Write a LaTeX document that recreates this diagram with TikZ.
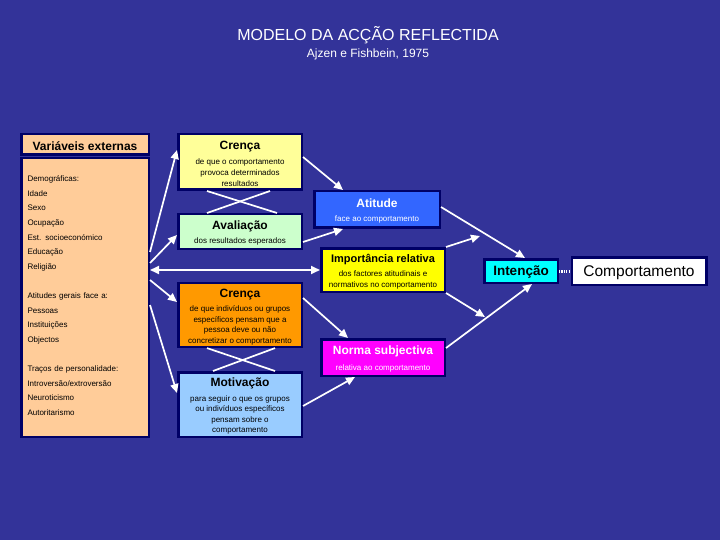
\documentclass[tikz,border=0pt]{standalone}
\usepackage{fontspec}
\setmainfont{Liberation Sans}
\usetikzlibrary{positioning, arrows.meta}

\newcommand{\btitle}[1]{{\fontsize{12}{12}\selectfont\bfseries\rule{0pt}{12pt}#1}}

\begin{document}
\begin{tikzpicture}[
        x=1pt, y=-1pt,
        >={Triangle[length=9pt,width=8pt]},
        % sub texts of the boxes are all 8pt
        font=\fontsize{8}{10.5}\selectfont
    ]
        % Define custom colors matching the slide
        \definecolor{slideblue}{RGB}{51,51,153}
        \definecolor{boxline}{RGB}{0,0,102}
        \definecolor{varpeach}{RGB}{255,204,153}
        \definecolor{crencayellow}{RGB}{255,255,153}
        \definecolor{avalgreen}{RGB}{204,255,204}
        \definecolor{atitudeblue}{RGB}{51,102,255}
        \definecolor{importyellow}{RGB}{255,255,0}
        \definecolor{crencaorange}{RGB}{255,153,0}
        \definecolor{motivblue}{RGB}{153,204,255}
        \definecolor{normamagenta}{RGB}{255,0,255}
        \definecolor{intencaocyan}{RGB}{0,255,255}

        % Define node styles
        \tikzstyle{box}=[
            draw=boxline,
            line width=2.5pt,
            inner sep=2pt,
            align=center
        ]
        \tikzstyle{flowarrow}=[->, white, line width=1.7pt]
        \tikzstyle{crossline}=[white, line width=1.7pt]

        % --- Slide background and heading ---
        \fill[slideblue] (0,0) rectangle (720,540);
        \node[white, font=\fontsize{16}{16}\selectfont] (heading) at (368,35) {MODELO DA ACÇÃO REFLECTIDA};
        \node[white, font=\fontsize{12}{12}\selectfont] (authors) at (368,54) {Ajzen e Fishbein, 1975};

        % --- External variables (left column) ---
        \node[box, fill=varpeach, minimum width=127.5pt, minimum height=20.5pt] (varhead) at (85,144.5) {\btitle{Variáveis externas}};
        \node[box, fill=varpeach, minimum width=127.5pt, minimum height=278.5pt,
              text width=115pt, align=left, font=\fontsize{8}{14.6}\selectfont] (varbody) at (85,297.5)
            {Demográficas:\\ Idade\\ Sexo\\ Ocupação\\ Est. socioeconómico\\ Educação\\ Religião\\[14.6pt]
             Atitudes gerais face a:\\ Pessoas\\ Instituições\\ Objectos\\[14.6pt]
             Traços de personalidade:\\ Introversão/extroversão\\ Neuroticismo\\ Autoritarismo\rule[-4pt]{0pt}{4pt}};

        % --- Beliefs and evaluations (middle column) ---
        \node[box, fill=crencayellow, minimum width=123.5pt, minimum height=55.5pt,
              font=\fontsize{8}{11}\selectfont] (crencaA) at (240,162)
            {\btitle{Crença}\\[3.5pt] de que o comportamento\\ provoca determinados\\ resultados};
        \node[box, fill=avalgreen, minimum width=123.5pt, minimum height=34.5pt] (avaliacao) at (240,231.5)
            {\btitle{Avaliação}\\[4pt] dos resultados esperados};
        \node[box, fill=crencaorange, minimum width=123.5pt, minimum height=63.5pt] (crencaB) at (240,315)
            {\btitle{Crença}\\[4pt] de que indivíduos ou grupos\\ específicos pensam que a\\ pessoa deve ou não\\ concretizar o comportamento};
        \node[box, fill=motivblue, minimum width=123.5pt, minimum height=64.5pt] (motivacao) at (240,404.5)
            {\btitle{Motivação}\\[4pt] para seguir o que os grupos\\ ou indivíduos específicos\\ pensam sobre o\\ comportamento};

        % --- Attitude, weights and norm ---
        \node[box, fill=atitudeblue, text=white, minimum width=125.5pt, minimum height=36.5pt] (atitude) at (377,209.5)
            {\btitle{Atitude}\\[4pt] face ao comportamento};
        \node[box, fill=importyellow, minimum width=123.5pt, minimum height=43.5pt] (importancia) at (383,270)
            {{\fontsize{11}{11}\selectfont\bfseries\rule{0pt}{11.5pt}Importância relativa}\\[4pt] dos factores atitudinais e\\ normativos no comportamento};
        \node[box, fill=normamagenta, text=white, minimum width=123.5pt, minimum height=36.5pt] (norma) at (383,357.5)
            {\btitle{Norma subjectiva}\\[5pt] relativa ao comportamento};

        % --- Intention and behaviour ---
        \node[box, fill=intencaocyan, minimum width=73.5pt, minimum height=23.5pt,
              font=\fontsize{13.5}{13.5}\selectfont\bfseries] (intencao) at (521,271) {\rule{0pt}{12.5pt}Intenção};
        \node[box, fill=white, minimum width=134.5pt, minimum height=27.5pt,
              font=\fontsize{15.5}{15.5}\selectfont, right=11.5pt of intencao] (comport) {\rule{0pt}{14pt}Comportamento};

        % free ends of the two weighting arrows
        \coordinate (weightA) at (480,236);
        \coordinate (weightB) at (485,317);

        % --- Arrows out of the external variables ---
        \draw[flowarrow] ([yshift=45.5pt]varbody.east) -- ([yshift=12pt]crencaA.west);
        \draw[flowarrow] ([yshift=34.5pt]varbody.east) -- ([yshift=-3.5pt]avaliacao.west);
        \draw[flowarrow, <->] ([yshift=27.5pt]varbody.east) -- (importancia.west);
        \draw[flowarrow] ([yshift=17.5pt]varbody.east) -- ([yshift=13pt]crencaB.west);
        \draw[flowarrow] ([yshift=-7.5pt]varbody.east) -- ([yshift=11.5pt]motivacao.west);

        % --- Crossed links between belief and evaluation ---
        \draw[crossline] ([xshift=-33pt]crencaA.south) -- ([xshift=37pt]avaliacao.north);
        \draw[crossline] ([xshift=30pt]crencaA.south) -- ([xshift=-33pt]avaliacao.north);
        \draw[crossline] ([xshift=-33pt]crencaB.south) -- ([xshift=35pt]motivacao.north);
        \draw[crossline] ([xshift=35pt]crencaB.south) -- ([xshift=-27pt]motivacao.north);

        % --- Main flow connections ---
        \draw[flowarrow] ([yshift=5pt]crencaA.east) -- ([xshift=-34pt]atitude.north);
        \draw[flowarrow] ([yshift=-10.5pt]avaliacao.east) -- ([xshift=-34pt]atitude.south);
        \draw[flowarrow] ([yshift=17pt]crencaB.east) -- ([xshift=-35pt]norma.north);
        \draw[flowarrow] ([yshift=-1.5pt]motivacao.east) -- ([xshift=-28pt]norma.south);
        \draw[flowarrow] ([yshift=2.5pt]atitude.east) -- ([xshift=4pt]intencao.north);
        \draw[flowarrow] (importancia.north east) -- (weightA);
        \draw[flowarrow] (importancia.south east) -- (weightB);
        \draw[flowarrow] ([yshift=9.5pt]norma.east) -- ([xshift=11pt]intencao.south);
        \draw[white, line width=3pt, dash pattern=on 1.2pt off 1.2pt] (intencao) -- (comport);

    \end{tikzpicture}
\end{document}
